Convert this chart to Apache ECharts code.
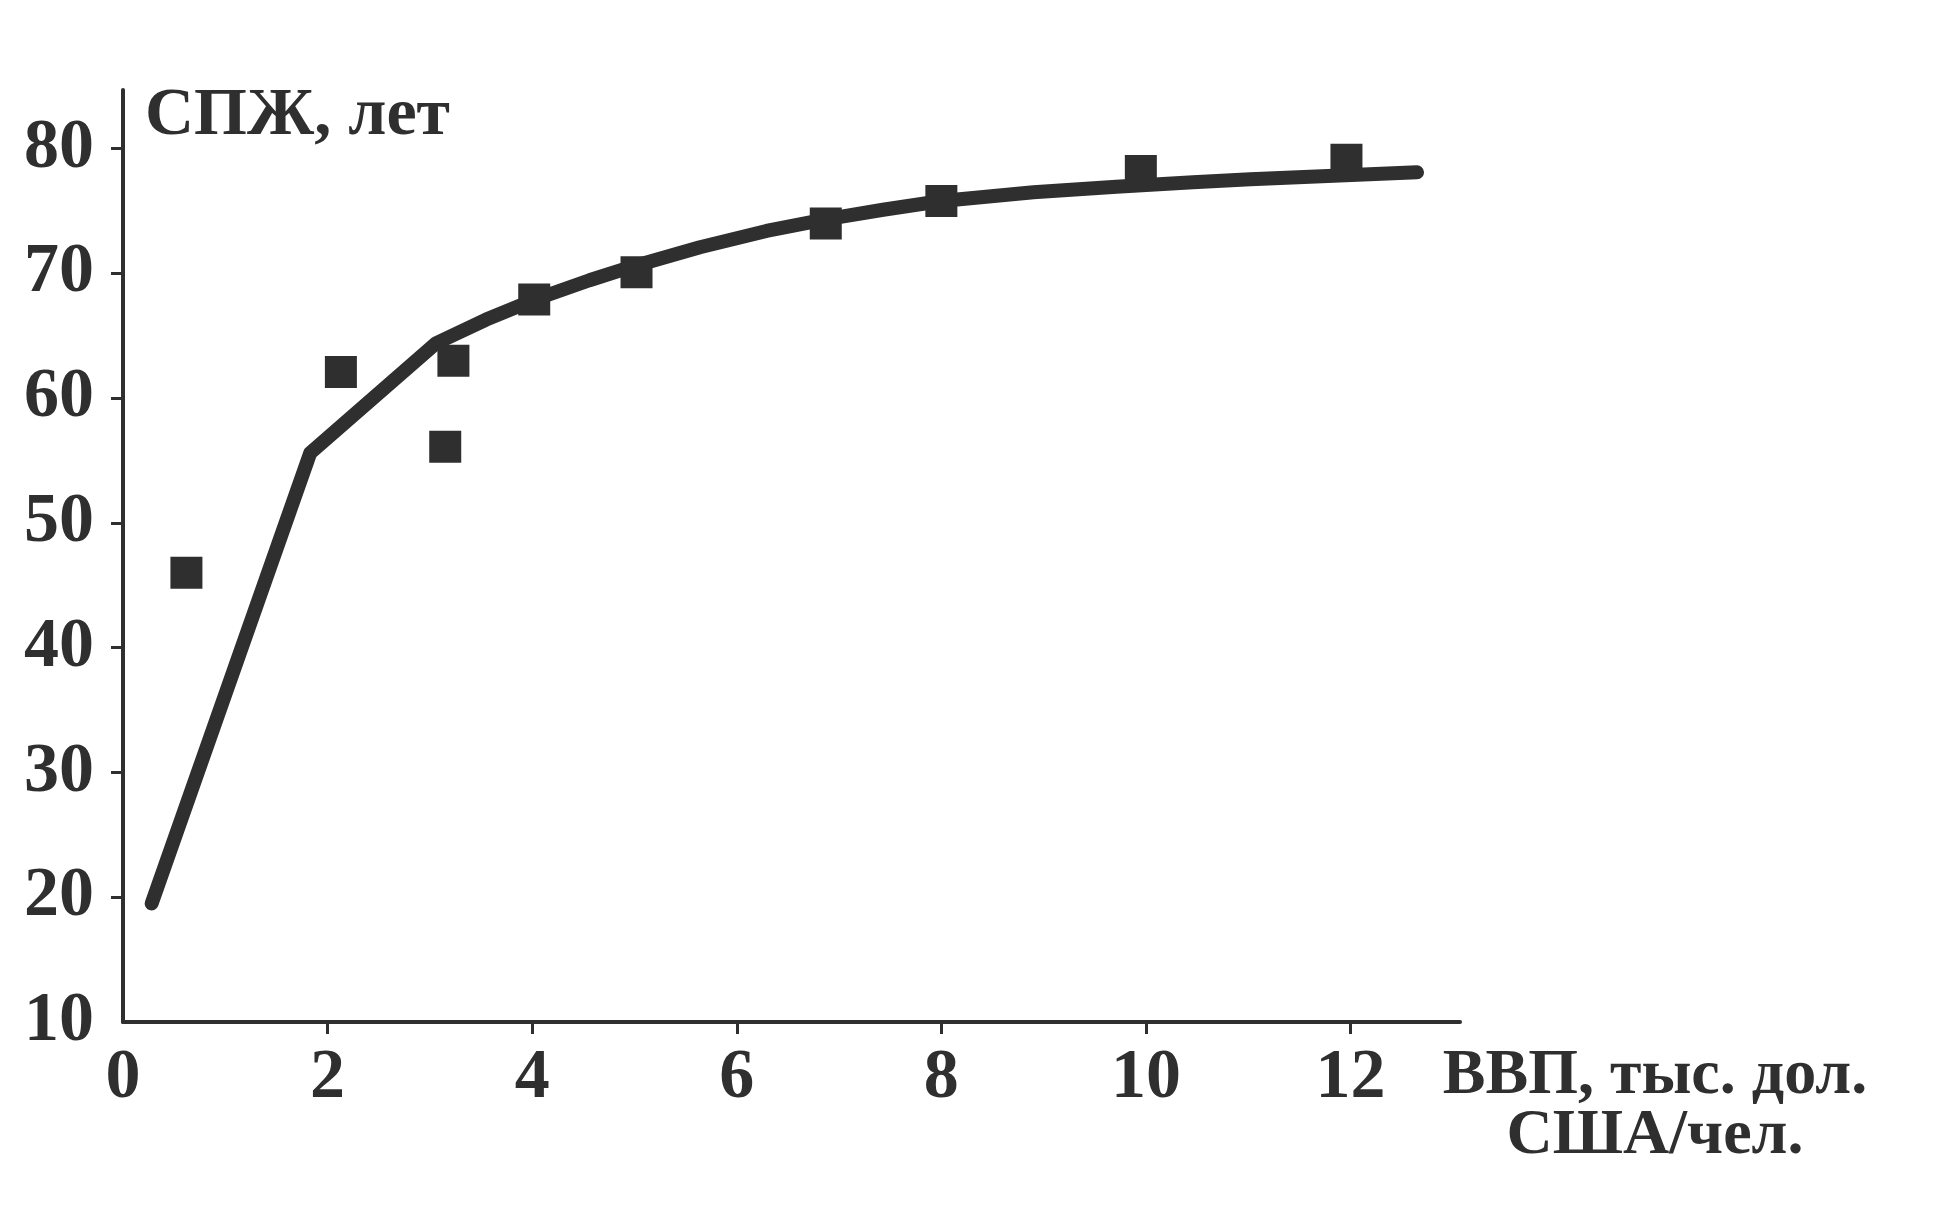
<!DOCTYPE html>
<html>
<head>
<meta charset="utf-8">
<script src="https://cdn.jsdelivr.net/npm/echarts@6/dist/echarts.min.js"></script>
<style>
html,body{margin:0;padding:0;background:#ffffff;}
#chart{width:1942px;height:1209px;}
</style>
</head>
<body>
<div id="chart"></div>
<script>
// GDP per capita (thousand USD) vs life expectancy (years)
var pointX = [0.62, 2.13, 3.15, 3.23, 4.02, 5.02, 6.87, 8.0, 9.95, 11.96];
var pointY = [46.0, 62.1, 56.1, 63.0, 67.9, 70.1, 74.0, 75.8, 78.2, 79.1];
var curveX = [0.28, 1.83, 3.06, 3.55, 4.04, 4.56, 5.0, 5.64, 6.29, 6.88, 7.43, 8.0, 8.9, 9.71, 10.46, 11.02, 12.65];
var curveY = [19.5, 55.6, 64.4, 66.3, 67.95, 69.45, 70.6, 72.1, 73.4, 74.35, 75.1, 75.8, 76.5, 76.95, 77.3, 77.55, 78.1];
var xTickValues = [2, 4, 6, 8, 10, 12];
var xLabelValues = [0, 2, 4, 6, 8, 10, 12];
var yTickValues = [20, 30, 40, 50, 60, 70, 80];
var yLabelValues = [10, 20, 30, 40, 50, 60, 70, 80];
var yName = 'СПЖ, лет';
var xName = 'ВВП, тыс. дол.\nСША/чел.';

var ink = '#2f2f2f';
var font = 'Liberation Serif';

var scatterData = pointX.map(function (x, i) { return [x, pointY[i]]; });
var curveData = curveX.map(function (x, i) { return [x, curveY[i]]; });

var chart = echarts.init(document.getElementById('chart'));
chart.setOption({
  backgroundColor: '#ffffff',
  animation: false,
  grid: { left: 123, right: 482, top: 90, bottom: 187, containLabel: false },
  xAxis: {
    type: 'value',
    min: 0,
    max: 13.07,
    interval: 2,
    splitLine: { show: false },
    axisLine: { show: true, lineStyle: { color: ink, width: 4 } },
    axisTick: { show: true, length: 12, customValues: xTickValues, lineStyle: { color: ink, width: 3 } },
    axisLabel: {
      customValues: xLabelValues,
      margin: 22,
      color: ink,
      fontFamily: font,
      fontWeight: 'bold',
      fontSize: 70
    },
    name: xName,
    nameLocation: 'end',
    nameGap: 195,
    nameTextStyle: {
      color: ink,
      fontFamily: font,
      fontWeight: 'bold',
      fontSize: 64,
      lineHeight: 60,
      align: 'center',
      verticalAlign: 'top',
      padding: [24, 0, 0, 0]
    }
  },
  yAxis: {
    type: 'value',
    min: 10,
    max: 84.7,
    interval: 10,
    splitLine: { show: false },
    axisLine: { show: true, lineStyle: { color: ink, width: 4 } },
    axisTick: { show: true, length: 12, customValues: yTickValues, lineStyle: { color: ink, width: 3 } },
    axisLabel: {
      customValues: yLabelValues,
      margin: 29,
      color: ink,
      fontFamily: font,
      fontWeight: 'bold',
      fontSize: 70
    },
    name: yName,
    nameLocation: 'end',
    nameGap: 8,
    nameTextStyle: {
      color: ink,
      fontFamily: font,
      fontWeight: 'bold',
      fontSize: 68,
      align: 'left',
      verticalAlign: 'top',
      padding: [0, 0, 0, 22]
    }
  },
  series: [
    {
      type: 'line',
      data: curveData,
      showSymbol: false,
      smooth: false,
      lineStyle: { color: ink, width: 14, cap: 'round', join: 'round' },
      z: 2
    },
    {
      type: 'scatter',
      data: scatterData,
      symbol: 'rect',
      symbolSize: 32,
      itemStyle: { color: ink, opacity: 1 },
      z: 3
    }
  ]
});
</script>
</body>
</html>
